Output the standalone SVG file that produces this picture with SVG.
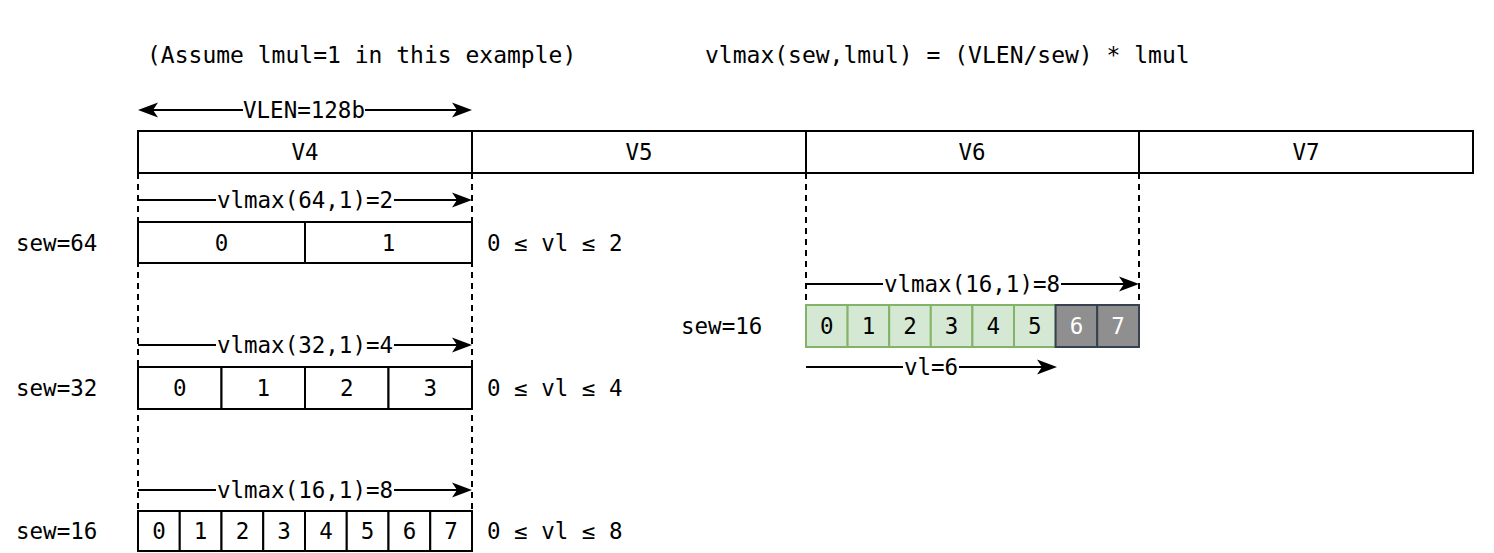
<svg xmlns="http://www.w3.org/2000/svg" xmlns:xlink="http://www.w3.org/1999/xlink" width="1494" height="553" viewBox="0 0 1494 553">
<style>
text{font-family:"DejaVu Sans Mono","Liberation Mono",monospace;font-size:22.5px;fill:#000;dominant-baseline:central}
.c{text-anchor:middle}
.t{font-size:23px}
.box{fill:#fff;stroke:#000;stroke-width:2}
.g{fill:#d5e8d4;stroke:#82b366;stroke-width:2}
.k{fill:#8f8f8f;stroke:#36424f;stroke-width:2}
.ln{stroke:#000;stroke-width:2;fill:none}
.dash{stroke:#000;stroke-width:2;stroke-dasharray:6 5;fill:none}
.bg{fill:#fff}
</style>
<defs>
<path id="head" d="M0,0 L-20,-7.5 L-15,0 L-20,7.5 Z" fill="#000"/>
</defs>
<rect width="1494" height="553" fill="#fff"/>
<g id="notes">
<text class="t" x="147" y="55">(Assume lmul=1 in this example)</text>
<text class="t" x="705" y="55">vlmax(sew,lmul) = (VLEN/sew) * lmul</text>
</g>
<g id="connectors">
<path class="dash" d="M138,173 V511 M472,173 V511 M806,173 V305 M1139,173 V305"/>
<path class="ln" d="M150,110 H460 M138,200 H460 M138,345 H460 M138,490 H460 M806,284 H1127 M806,367 H1045"/>
<use xlink:href="#head" href="#head" transform="translate(138,110) scale(-1,1)"/>
<use xlink:href="#head" href="#head" transform="translate(472,110)"/>
<use xlink:href="#head" href="#head" transform="translate(472,200)"/>
<use xlink:href="#head" href="#head" transform="translate(472,345)"/>
<use xlink:href="#head" href="#head" transform="translate(472,490)"/>
<use xlink:href="#head" href="#head" transform="translate(1139,284)"/>
<use xlink:href="#head" href="#head" transform="translate(1057,367)"/>
<rect class="bg" x="243" y="98" width="122" height="24"/>
<text class="c" x="304" y="110">VLEN=128b</text>
<rect class="bg" x="216" y="188" width="178" height="24"/>
<text class="c" x="305" y="200">vlmax(64,1)=2</text>
<rect class="bg" x="216" y="333" width="178" height="24"/>
<text class="c" x="305" y="345">vlmax(32,1)=4</text>
<rect class="bg" x="216" y="478" width="178" height="24"/>
<text class="c" x="305" y="490">vlmax(16,1)=8</text>
<rect class="bg" x="883" y="272" width="178" height="24"/>
<text class="c" x="972" y="284">vlmax(16,1)=8</text>
<rect class="bg" x="903" y="355" width="56" height="24"/>
<text class="c" x="931" y="367">vl=6</text>
</g>
<g id="V4"><rect class="box" x="138" y="131" width="334" height="42"/><text class="c" x="305" y="152">V4</text></g>
<g id="V5"><rect class="box" x="472" y="131" width="334" height="42"/><text class="c" x="639" y="152">V5</text></g>
<g id="V6"><rect class="box" x="806" y="131" width="333" height="42"/><text class="c" x="972" y="152">V6</text></g>
<g id="V7"><rect class="box" x="1139" y="131" width="334" height="42"/><text class="c" x="1306" y="152">V7</text></g>
<g id="sew64">
<text x="16" y="243">sew=64</text>
<rect class="box" x="138" y="222" width="167" height="41"/><text class="c" x="221.5" y="243">0</text>
<rect class="box" x="305" y="222" width="167" height="41"/><text class="c" x="388.5" y="243">1</text>
<text x="487" y="243">0 ≤ vl ≤ 2</text>
</g>
<g id="sew32">
<text x="16" y="388">sew=32</text>
<rect class="box" x="138" y="367" width="83.5" height="42"/><text class="c" x="179.75" y="388">0</text>
<rect class="box" x="221.5" y="367" width="83.5" height="42"/><text class="c" x="263.25" y="388">1</text>
<rect class="box" x="305" y="367" width="83.5" height="42"/><text class="c" x="346.75" y="388">2</text>
<rect class="box" x="388.5" y="367" width="83.5" height="42"/><text class="c" x="430.25" y="388">3</text>
<text x="487" y="388">0 ≤ vl ≤ 4</text>
</g>
<g id="sew16a">
<text x="16" y="531">sew=16</text>
<rect class="box" x="138" y="511" width="41.75" height="40"/><text class="c" x="158.9" y="531">0</text>
<rect class="box" x="179.75" y="511" width="41.75" height="40"/><text class="c" x="200.6" y="531">1</text>
<rect class="box" x="221.5" y="511" width="41.75" height="40"/><text class="c" x="242.4" y="531">2</text>
<rect class="box" x="263.25" y="511" width="41.75" height="40"/><text class="c" x="284.1" y="531">3</text>
<rect class="box" x="305" y="511" width="41.75" height="40"/><text class="c" x="325.9" y="531">4</text>
<rect class="box" x="346.75" y="511" width="41.75" height="40"/><text class="c" x="367.6" y="531">5</text>
<rect class="box" x="388.5" y="511" width="41.75" height="40"/><text class="c" x="409.4" y="531">6</text>
<rect class="box" x="430.25" y="511" width="41.75" height="40"/><text class="c" x="451.1" y="531">7</text>
<text x="487" y="531">0 ≤ vl ≤ 8</text>
</g>
<g id="sew16b">
<text x="681" y="326">sew=16</text>
<rect class="g" x="806" y="305" width="41.6" height="42"/><text class="c" x="826.8" y="326">0</text>
<rect class="g" x="847.6" y="305" width="41.6" height="42"/><text class="c" x="868.4" y="326">1</text>
<rect class="g" x="889.2" y="305" width="41.6" height="42"/><text class="c" x="910" y="326">2</text>
<rect class="g" x="930.8" y="305" width="41.6" height="42"/><text class="c" x="951.6" y="326">3</text>
<rect class="g" x="972.4" y="305" width="41.6" height="42"/><text class="c" x="993.2" y="326">4</text>
<rect class="g" x="1014" y="305" width="41.6" height="42"/><text class="c" x="1034.8" y="326">5</text>
<rect class="k" x="1055.6" y="305" width="41.6" height="42"/><text class="c" x="1076.4" y="326" style="fill:#fff">6</text>
<rect class="k" x="1097.2" y="305" width="41.8" height="42"/><text class="c" x="1118.1" y="326" style="fill:#fff">7</text>
</g>
</svg>
